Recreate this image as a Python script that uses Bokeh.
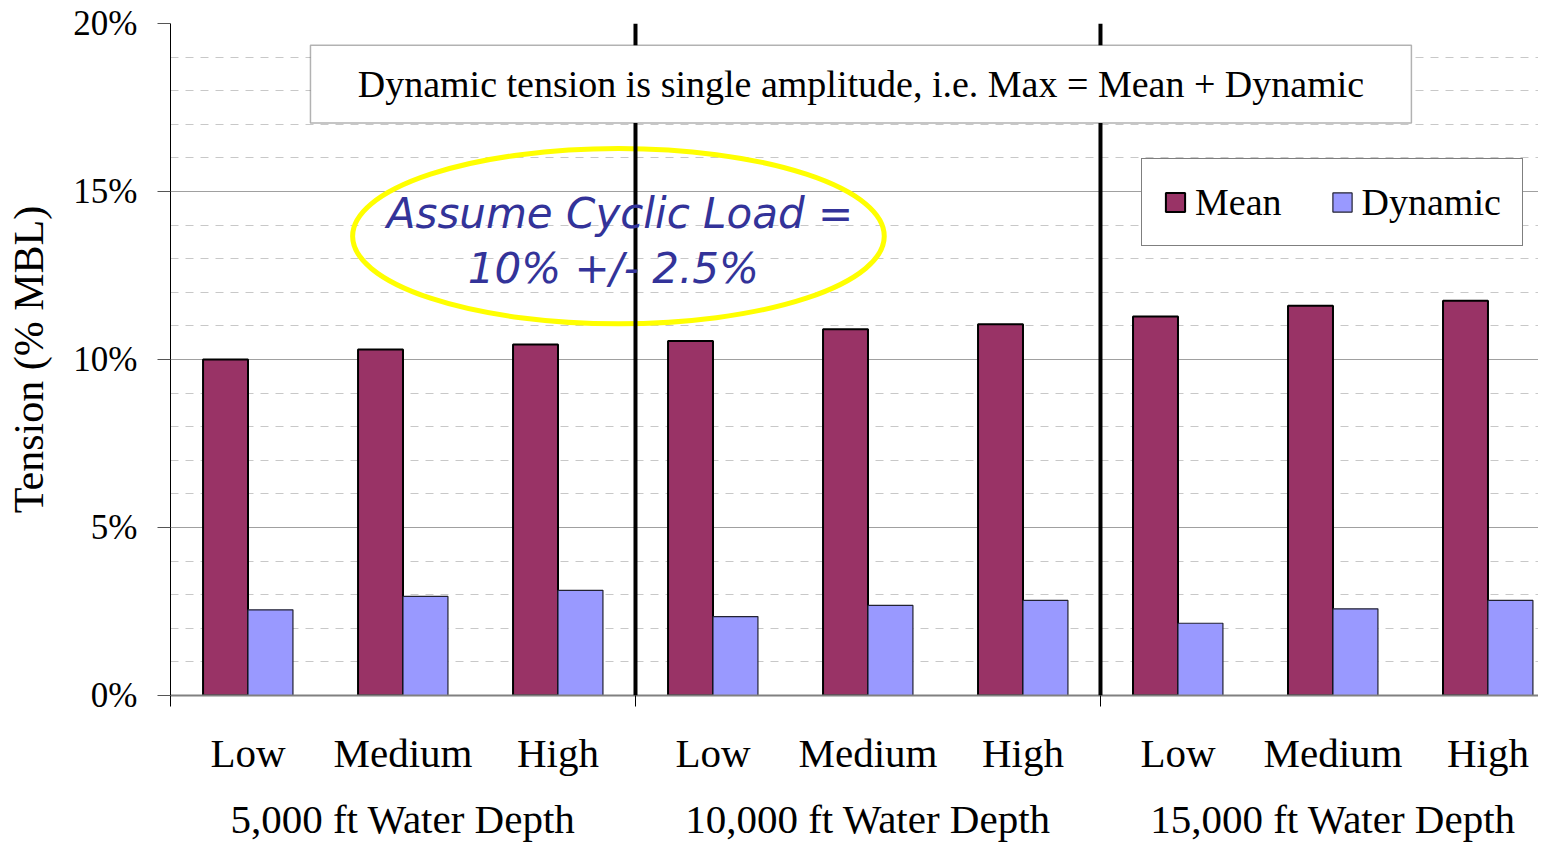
import numpy as np
from bokeh.plotting import figure
from bokeh.models import (ColumnDataSource, FixedTicker, PrintfTickFormatter, LinearAxis,
                          Span, BoxAnnotation, Label, Legend, LegendItem, Range1d)
from bokeh.transform import dodge
from bokeh.embed import file_html
from bokeh.resources import INLINE

# ---- data ----
levels = ["Low", "Medium", "High"] * 3
groups = ["5,000 ft Water Depth", "10,000 ft Water Depth", "15,000 ft Water Depth"]
mean_vals = [10.0, 10.3, 10.45, 10.55, 10.9, 11.05, 11.28, 11.6, 11.75]
dynamic_vals = [2.55, 2.95, 3.13, 2.35, 2.68, 2.83, 2.15, 2.58, 2.83]
y_ticks = [0, 5, 10, 15, 20]
note_text = "Dynamic tension is single amplitude, i.e. Max = Mean + Dynamic"
callout_lines = ["Assume Cyclic Load =", "10%  +/- 2.5%"]

SERIF = "Liberation Serif"
centers = list(np.arange(len(levels)) + 0.5)
src = ColumnDataSource(dict(x=centers, mean=mean_vals, dyn=dynamic_vals))

p = figure(width=1538, height=844, output_backend="svg", toolbar_location=None,
           x_range=Range1d(0, 8.826), y_range=Range1d(0, 20),
           min_border_left=170, min_border_right=0, min_border_top=23, min_border_bottom=140,
           outline_line_color=None, background_fill_color="white")
p.xaxis.visible = False
p.yaxis.visible = False
p.xgrid.visible = False

# y axis
yax = p.yaxis[0]
yax.visible = True
yax.ticker = FixedTicker(ticks=y_ticks, minor_ticks=[v for v in range(21) if v % 5])
yax.formatter = PrintfTickFormatter(format="%d%%")
yax.axis_label = "Tension (% MBL)"
yax.axis_label_text_font = SERIF
yax.axis_label_text_font_size = "42px"
yax.axis_label_text_font_style = "normal"
yax.axis_label_text_color = "black"
yax.axis_label_standoff = 18
yax.major_label_text_font = SERIF
yax.major_label_text_font_size = "35px"
yax.major_label_text_color = "black"
yax.major_label_standoff = 20
yax.major_tick_in = 0
yax.major_tick_out = 13
yax.major_tick_line_color = "#555555"
yax.minor_tick_line_color = None
yax.axis_line_color = "black"
yax.axis_line_width = 1

p.ygrid.ticker = yax.ticker
p.ygrid.grid_line_color = "#a0a0a0"
p.ygrid.grid_line_width = 1
p.ygrid.minor_grid_line_color = "#c8c8c8"
p.ygrid.minor_grid_line_dash = "8 7"
p.ygrid.minor_grid_line_width = 1

# x axis 1: levels
ax1 = LinearAxis(ticker=FixedTicker(ticks=centers, minor_ticks=[0, 3, 6]),
                 major_label_overrides={c: l for c, l in zip(centers, levels)})
ax1.major_label_text_font = SERIF
ax1.major_label_text_font_size = "41px"
ax1.major_label_text_color = "black"
ax1.major_label_standoff = 23
ax1.major_tick_in = 0
ax1.major_tick_out = 0
ax1.minor_tick_in = 0
ax1.minor_tick_out = 11
ax1.minor_tick_line_color = "black"
ax1.axis_line_color = "#808080"
ax1.axis_line_width = 2
p.add_layout(ax1, "below")

# x axis 2: groups
gcent = [1.5, 4.5, 7.5]
ax2 = LinearAxis(ticker=FixedTicker(ticks=gcent, minor_ticks=[]),
                 major_label_overrides={c: g for c, g in zip(gcent, groups)})
ax2.major_label_text_font = SERIF
ax2.major_label_text_font_size = "41px"
ax2.major_label_text_color = "black"
ax2.major_label_standoff = 11
ax2.major_tick_line_color = None
ax2.minor_tick_line_color = None
ax2.axis_line_color = None
p.add_layout(ax2, "below")

# bars
bw = 0.29
r_mean = p.vbar(x=dodge("x", -0.145), top="mean", width=bw, source=src,
                fill_color="#993366", line_color="black", line_width=2)
r_dyn = p.vbar(x=dodge("x", 0.145), top="dyn", width=bw, source=src,
               fill_color="#9999FF", line_color="#222233", line_width=1.2)

# callout ellipse
p.ellipse(x=2.89, y=13.67, width=3.43, height=5.22, fill_color=None,
          line_color="#FFFF00", line_width=5)

# group separators
for xs in [3, 6]:
    p.add_layout(Span(location=xs, dimension="height", line_color="black", line_width=4))

# note box
p.add_layout(BoxAnnotation(left=0.903, right=8.006, bottom=17.04, top=19.35,
                           fill_color="white", fill_alpha=1, line_color="black", line_width=1.5))
p.add_layout(Label(x=(0.903 + 8.006) / 2, y=18.2, text=note_text, text_align="center",
                   text_baseline="middle", text_font=SERIF, text_font_size="38px",
                   text_color="black"))

# callout text
for i, t in enumerate(callout_lines):
    p.add_layout(Label(x=2.9, y=14.35 - i * 1.65, text=t, text_align="center",
                       text_baseline="middle", text_font="DejaVu Sans",
                       text_font_style="italic", text_font_size="42px",
                       text_color="#333399"))

legend = Legend(items=[LegendItem(label="Mean", renderers=[r_mean]),
                       LegendItem(label="Dynamic", renderers=[r_dyn])],
                orientation="horizontal", location=(971, 449))
legend.label_text_font = SERIF
legend.label_text_font_size = "38px"
legend.label_text_color = "black"
legend.glyph_width = 24
legend.glyph_height = 24
legend.label_standoff = 8
legend.spacing = 48
legend.padding = 21
legend.margin = 0
legend.border_line_color = "black"
legend.border_line_width = 1
legend.background_fill_alpha = 1
p.add_layout(legend, "center")

open("out.html", "w").write(file_html(p, INLINE))
